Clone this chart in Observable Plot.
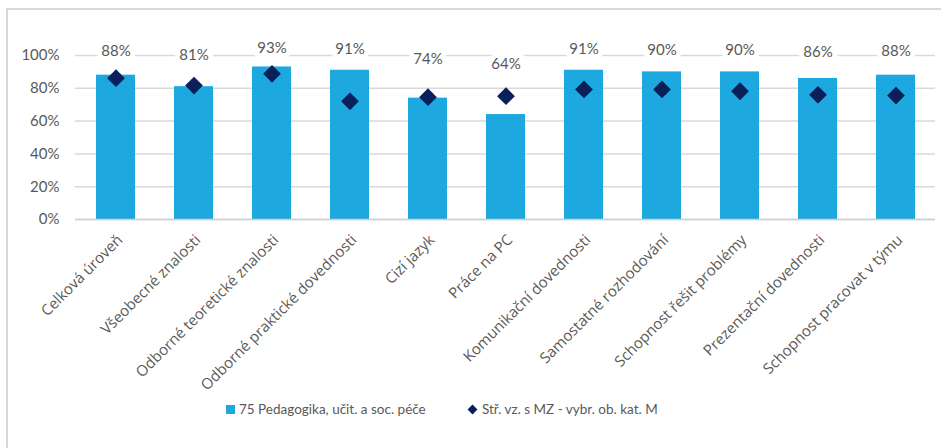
<!DOCTYPE html>
<html>
<head>
<meta charset="utf-8">
<script src="https://cdn.jsdelivr.net/npm/d3@7"></script>
<script src="https://cdn.jsdelivr.net/npm/@observablehq/plot@0.6"></script>
<style>
  html, body { margin: 0; padding: 0; background: #fff; }
  body { width: 941px; height: 448px; position: relative; overflow: hidden; font-family: Lato, "Open Sans", sans-serif; }
  #frame { position: absolute; left: 6px; top: 8px; width: 960px; height: 460px; border-left: 2px solid #d9d9d9; border-top: 2px solid #d9d9d9; box-sizing: border-box; }
  #chart { position: absolute; left: 0; top: 0; }
  .leg { position: absolute; top: 401px; font-size: 13.5px; color: #595959; display: flex; align-items: center; white-space: nowrap; }
  .sq { width: 9px; height: 9px; background: #1DA9E0; margin-right: 4px; }
  .dm { width: 7px; height: 7px; background: #0B1F5B; transform: rotate(45deg); margin-right: 6px; margin-left: 2px; }
</style>
</head>
<body>
<div id="frame"></div>
<div id="chart"></div>
<div class="leg" style="left:226px"><div class="sq"></div>75 Pedagogika, učit. a soc. péče</div>
<div class="leg" style="left:467px"><div class="dm"></div>Stř. vz. s MZ - vybr. ob. kat. M</div>
<script>
const categories = [
  "Celková úroveň",
  "Všeobecné znalosti",
  "Odborné teoretické znalosti",
  "Odborné praktické dovednosti",
  "Cizí jazyk",
  "Práce na PC",
  "Komunikační dovednosti",
  "Samostatné rozhodování",
  "Schopnost řešit problémy",
  "Prezentační dovednosti",
  "Schopnost pracovat v týmu"
];
const barValues = [88, 81, 93, 91, 74, 64, 91, 90, 90, 86, 88];
const diamondValues = [86.2, 81.7, 88.8, 72.1, 74.6, 75.2, 79.3, 79.3, 78.2, 76.0, 75.6];
const yTicks = [0, 20, 40, 60, 80, 100];

const data = categories.map((c, i) => ({cat: c, bar: barValues[i], avg: diamondValues[i]}));

const W = 941, H = 396;
const plot = Plot.plot({
  width: W,
  height: H,
  marginLeft: 75,
  marginRight: 6,
  marginTop: 55,
  marginBottom: H - 219,
  style: {fontFamily: "Lato, sans-serif", color: "#595959", background: "transparent", overflow: "visible"},
  x: {domain: categories, paddingInner: 0.5, paddingOuter: 0.25, label: null},
  y: {domain: [0, 100], label: null},
  marks: [
    Plot.gridY(yTicks, {stroke: "#d9d9d9", strokeOpacity: 1, strokeWidth: 1.5}),
    Plot.axisY(yTicks, {tickSize: 0, tickPadding: 16, tickFormat: d => d + "%", fontSize: 15, label: null, fill: "#595959"}),
    Plot.barY(data, {x: "cat", y: "bar", fill: "#1DA9E0"}),
    Plot.ruleY([0], {stroke: "#d0d0d0", strokeWidth: 1.5}),
    Plot.dot(data, {x: "cat", y: "avg", symbol: "diamond2", r: 8, fill: "#0B1F5B", stroke: "none"}),
    Plot.text(data, {x: "cat", y: d => 72 + 0.35 * d.bar, text: d => d.bar + "%", fontSize: 15, fill: "#595959", stroke: "white", strokeWidth: 10, paintOrder: "stroke"}),
    Plot.axisX({tickSize: 0, tickPadding: 18, tickRotate: -45, fontSize: 15, fontFamily: "Open Sans, sans-serif", fill: "#595959", label: null, dx: 4})
  ]
});
document.getElementById("chart").appendChild(plot);
</script>
</body>
</html>
